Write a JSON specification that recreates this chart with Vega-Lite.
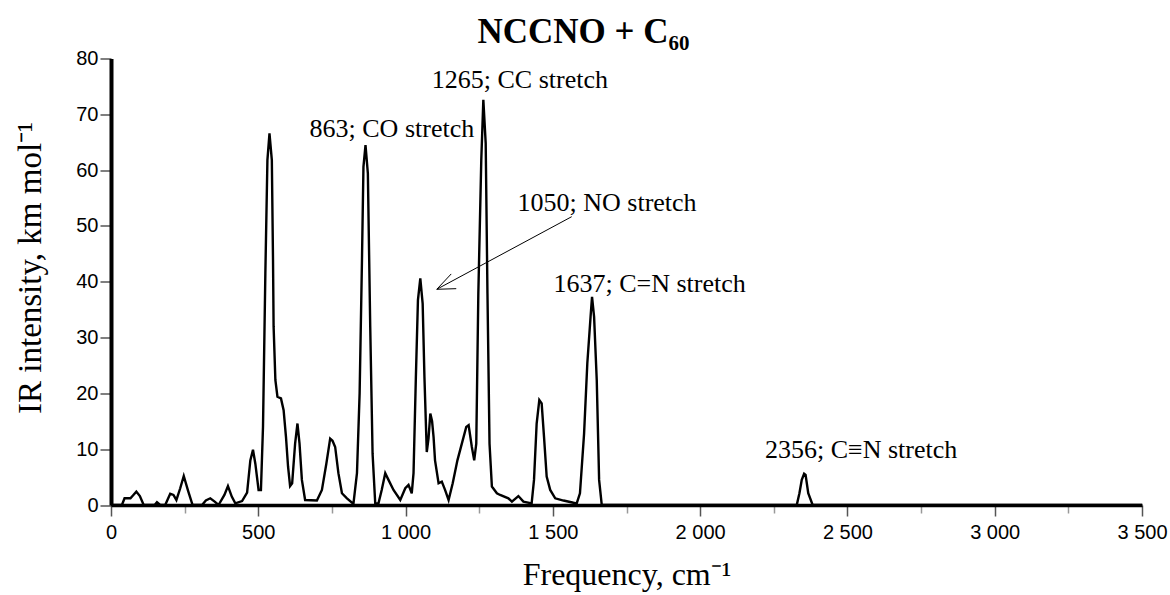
{
  "$schema": "https://vega.github.io/schema/vega-lite/v6.json",
  "width": 1031,
  "height": 446.5,
  "autosize": {"type": "none"},
  "padding": {"left": 111, "top": 58.5, "right": 28, "bottom": 90},
  "background": "white",
  "config": {"view": {"stroke": null}},
  "title": {
    "text": "NCCNO + C₆₀",
    "font": "Liberation Serif",
    "fontSize": 35,
    "fontWeight": "bold",
    "color": "black",
    "anchor": "middle",
    "frame": "group",
    "dx": -43,
    "dy": 33,
    "baseline": "alphabetic",
    "offset": 4
  },
  "datasets": {
    "spectrum": [
      {"f": 0, "i": 0}, {"f": 37, "i": 0}, {"f": 46, "i": 1.2}, {"f": 66, "i": 1.2}, {"f": 76, "i": 1.8},
      {"f": 86, "i": 2.4}, {"f": 98, "i": 1.6}, {"f": 111, "i": 0}, {"f": 148, "i": 0}, {"f": 156, "i": 0.5},
      {"f": 167, "i": 0}, {"f": 184, "i": 0}, {"f": 201, "i": 2.0}, {"f": 212, "i": 1.8}, {"f": 222, "i": 0.9},
      {"f": 235, "i": 3.0}, {"f": 247, "i": 5.2}, {"f": 262, "i": 2.5}, {"f": 277, "i": 0}, {"f": 309, "i": 0},
      {"f": 322, "i": 0.8}, {"f": 337, "i": 1.2}, {"f": 352, "i": 0.6}, {"f": 365, "i": 0}, {"f": 385, "i": 1.8},
      {"f": 397, "i": 3.4}, {"f": 410, "i": 1.5}, {"f": 422, "i": 0.3}, {"f": 445, "i": 0.7}, {"f": 462, "i": 2.2},
      {"f": 473, "i": 8.0}, {"f": 482, "i": 9.9}, {"f": 490, "i": 7.4}, {"f": 501, "i": 2.7}, {"f": 509, "i": 2.7},
      {"f": 516, "i": 14.0}, {"f": 524, "i": 41.5}, {"f": 531, "i": 61.8}, {"f": 538, "i": 66.6}, {"f": 546, "i": 61.8},
      {"f": 550, "i": 43.9}, {"f": 552, "i": 32}, {"f": 558, "i": 22.4}, {"f": 565, "i": 19.4}, {"f": 577, "i": 19.1},
      {"f": 586, "i": 17.0}, {"f": 594, "i": 12.2}, {"f": 601, "i": 6.9}, {"f": 608, "i": 3.4}, {"f": 615, "i": 3.9},
      {"f": 625, "i": 11.0}, {"f": 633, "i": 14.6}, {"f": 640, "i": 11.0}, {"f": 648, "i": 4.5}, {"f": 659, "i": 0.9},
      {"f": 699, "i": 0.8}, {"f": 716, "i": 2.7}, {"f": 731, "i": 7.4}, {"f": 744, "i": 11.9}, {"f": 752, "i": 11.5},
      {"f": 761, "i": 10.4}, {"f": 772, "i": 5.7}, {"f": 784, "i": 2.1}, {"f": 801, "i": 1.2}, {"f": 823, "i": 0.2},
      {"f": 835, "i": 5.7}, {"f": 844, "i": 20}, {"f": 852, "i": 43.9}, {"f": 857, "i": 60.6}, {"f": 864, "i": 64.5},
      {"f": 872, "i": 59.4}, {"f": 880, "i": 32}, {"f": 888, "i": 9.2}, {"f": 897, "i": 0.3}, {"f": 908, "i": 0.3},
      {"f": 919, "i": 2.7}, {"f": 931, "i": 5.7}, {"f": 942, "i": 4.5}, {"f": 959, "i": 2.7}, {"f": 982, "i": 0.9},
      {"f": 999, "i": 3.0}, {"f": 1010, "i": 3.6}, {"f": 1021, "i": 2.1}, {"f": 1027, "i": 5.7}, {"f": 1035, "i": 23},
      {"f": 1042, "i": 36.7}, {"f": 1050, "i": 40.6}, {"f": 1058, "i": 36.1}, {"f": 1064, "i": 23}, {"f": 1072, "i": 9.5},
      {"f": 1078, "i": 12}, {"f": 1084, "i": 16.4}, {"f": 1090, "i": 15}, {"f": 1095, "i": 12.2}, {"f": 1100, "i": 8.0},
      {"f": 1112, "i": 3.9}, {"f": 1123, "i": 4.2}, {"f": 1134, "i": 2.7}, {"f": 1146, "i": 0.9}, {"f": 1160, "i": 3.9},
      {"f": 1176, "i": 8.0}, {"f": 1191, "i": 11.0}, {"f": 1206, "i": 14.0}, {"f": 1214, "i": 14.3}, {"f": 1225, "i": 10.4},
      {"f": 1233, "i": 8.0}, {"f": 1240, "i": 11.0}, {"f": 1247, "i": 37.9}, {"f": 1257, "i": 61.8}, {"f": 1264, "i": 72.6},
      {"f": 1272, "i": 64.8}, {"f": 1278, "i": 37.9}, {"f": 1285, "i": 11.0}, {"f": 1293, "i": 3.3}, {"f": 1310, "i": 2.1},
      {"f": 1321, "i": 1.8}, {"f": 1349, "i": 1.2}, {"f": 1361, "i": 0.6}, {"f": 1383, "i": 1.6}, {"f": 1400, "i": 0.6},
      {"f": 1428, "i": 0.3}, {"f": 1436, "i": 4.5}, {"f": 1445, "i": 14.6}, {"f": 1454, "i": 18.8}, {"f": 1462, "i": 18.2},
      {"f": 1470, "i": 12.2}, {"f": 1479, "i": 5.1}, {"f": 1491, "i": 2.7}, {"f": 1508, "i": 1.2}, {"f": 1536, "i": 0.8},
      {"f": 1570, "i": 0.4}, {"f": 1581, "i": 0.3}, {"f": 1592, "i": 2.1}, {"f": 1606, "i": 12.8}, {"f": 1617, "i": 25.4},
      {"f": 1628, "i": 33.7}, {"f": 1633, "i": 37.3}, {"f": 1640, "i": 33.7}, {"f": 1649, "i": 22.4}, {"f": 1657, "i": 4.5},
      {"f": 1666, "i": 0}, {"f": 2328, "i": 0}, {"f": 2337, "i": 2.1}, {"f": 2345, "i": 4.5}, {"f": 2353, "i": 5.6},
      {"f": 2358, "i": 5.4}, {"f": 2367, "i": 2.1}, {"f": 2382, "i": 0}, {"f": 3500, "i": 0}
    ],
    "arrows": [
      {"x1": 1564, "y1": 51.66, "x2": 1106, "y2": 38.65},
      {"x1": 1106, "y1": 38.65, "x2": 1155, "y2": 41.4},
      {"x1": 1106, "y1": 38.65, "x2": 1172, "y2": 38.76}
    ],
    "labels": [
      {"x": 674, "y": 65.9, "t": "863; CO stretch"},
      {"x": 1089, "y": 74.66, "t": "1265; CC stretch"},
      {"x": 1380, "y": 52.73, "t": "1050; NO stretch"},
      {"x": 1502, "y": 38.2, "t": "1637; C=N stretch"},
      {"x": 2220, "y": 8.37, "t": "2356; C≡N stretch"}
    ]
  },
  "layer": [
    {
      "data": {"name": "spectrum"},
      "mark": {"type": "line", "color": "black", "strokeWidth": 2.4, "strokeJoin": "miter"},
      "encoding": {
        "x": {
          "field": "f", "type": "quantitative",
          "scale": {"domain": [0, 3500], "nice": false, "zero": false},
          "axis": {
            "values": [0,125,250,375,500,625,750,875,1000,1125,1250,1375,1500,1625,1750,1875,2000,2125,2250,2375,2500,2625,2750,2875,3000,3125,3250,3375,3500],
            "labelExpr": "datum.value % 500 === 0 ? replace(format(datum.value, ','), ',', ' ') : ''",
            "labelFont": "Liberation Sans", "labelFontSize": 20, "labelColor": "black",
            "labelPadding": 6, "labelFlush": false, "labelOverlap": false, "labelBound": false,
            "tickSize": {"condition": {"test": "datum.value % 500 === 0", "value": 11}, "value": 8},
            "tickColor": {"condition": {"test": "datum.value % 500 === 0", "value": "#555555"}, "value": "#999999"},
            "tickWidth": 1.5,
            "domainColor": "black", "domainWidth": 3.5,
            "grid": false,
            "title": "Frequency, cm⁻¹",
            "titleFont": "Liberation Serif", "titleFontSize": 32, "titleFontWeight": "normal", "titleColor": "black",
            "titleBaseline": "alphabetic", "titleY": 79
          }
        },
        "y": {
          "field": "i", "type": "quantitative",
          "scale": {"domain": [0, 80], "nice": false},
          "axis": {
            "values": [0,2.5,5,7.5,10,12.5,15,17.5,20,22.5,25,27.5,30,32.5,35,37.5,40,42.5,45,47.5,50,52.5,55,57.5,60,62.5,65,67.5,70,72.5,75,77.5,80],
            "labelExpr": "datum.value % 10 === 0 ? datum.label : ''",
            "labelFont": "Liberation Sans", "labelFontSize": 20, "labelColor": "black",
            "labelPadding": 2, "labelOverlap": false, "labelBound": false, "labelFlush": false,
            "tickSize": {"condition": {"test": "datum.value % 10 === 0", "value": 11}, "value": 7},
            "tickColor": {"condition": {"test": "datum.value % 10 === 0", "value": "#555555"}, "value": "#999999"},
            "tickWidth": 1.5,
            "domainColor": "black", "domainWidth": 4,
            "grid": false,
            "title": "IR intensity, km mol⁻¹",
            "titleFont": "Liberation Serif", "titleFontSize": 33, "titleFontWeight": "normal", "titleColor": "black",
            "titleBaseline": "alphabetic", "titleAngle": -90, "titleX": -71, "titleY": 209, "titleAlign": "center"
          }
        }
      }
    },
    {
      "data": {"name": "arrows"},
      "mark": {"type": "rule", "color": "black", "strokeWidth": 1},
      "encoding": {
        "x": {"field": "x1", "type": "quantitative"},
        "y": {"field": "y1", "type": "quantitative"},
        "x2": {"field": "x2"},
        "y2": {"field": "y2"}
      }
    },
    {
      "data": {"name": "labels"},
      "mark": {"type": "text", "align": "left", "baseline": "alphabetic", "font": "Liberation Serif", "fontSize": 26, "color": "black"},
      "encoding": {
        "x": {"field": "x", "type": "quantitative"},
        "y": {"field": "y", "type": "quantitative"},
        "text": {"field": "t"}
      }
    }
  ]
}
